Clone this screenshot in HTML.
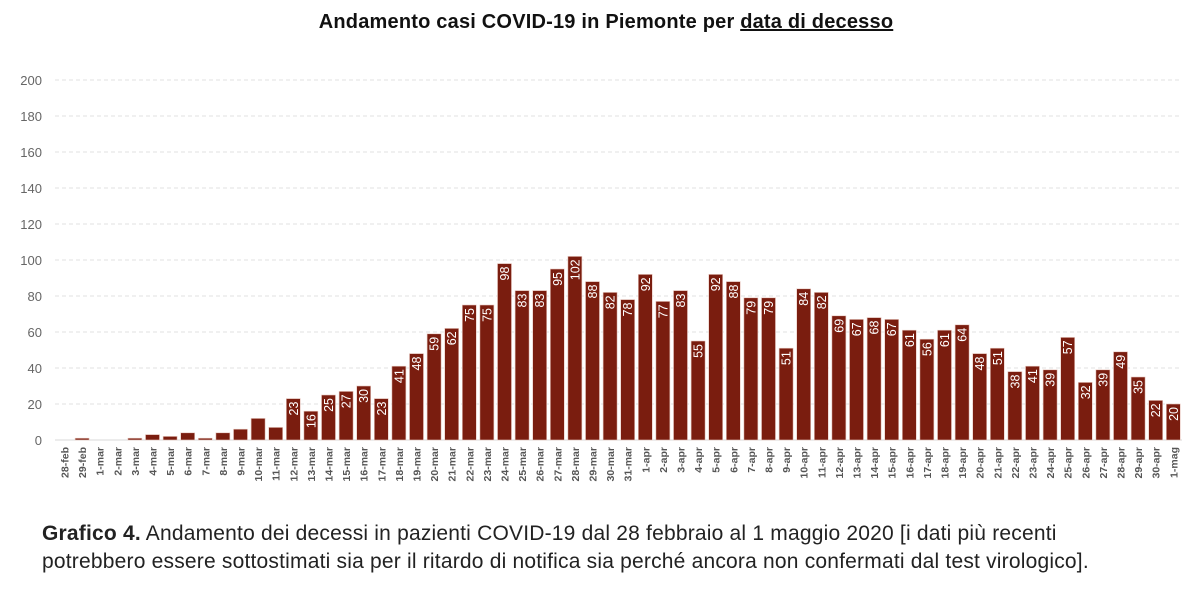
<!DOCTYPE html>
<html><head><meta charset="utf-8"><style>
body{margin:0;background:#fff;font-family:"Liberation Sans",sans-serif;}
#wrap{position:relative;width:1200px;height:591px;overflow:hidden;}
#title{position:absolute;top:11px;left:0;width:1212px;text-align:center;font-weight:bold;font-size:20px;letter-spacing:0.2px;color:#111;}
#caption{position:absolute;left:42px;top:520px;font-size:21px;letter-spacing:0.2px;line-height:28px;color:#222;white-space:nowrap;}
</style></head><body>
<div id="wrap">
<div id="title">Andamento casi COVID-19 in Piemonte per <u>data di decesso</u></div>
<svg id="chart" width="1200" height="520" style="position:absolute;left:0;top:0"></svg>
<div id="caption"><b>Grafico 4.</b> Andamento dei decessi in pazienti COVID-19 dal 28 febbraio al 1 maggio 2020 [i dati più recenti<br>potrebbero essere sottostimati sia per il ritardo di notifica sia perché ancora non confermati dal test virologico].</div>
</div>
<script>
const categories=["28-feb","29-feb"];
for(let i=1;i<=31;i++)categories.push(i+"-mar");
for(let i=1;i<=30;i++)categories.push(i+"-apr");
categories.push("1-mag");
const values=[0,1,0,0,1,3,2,4,1,4,6,12,7,23,16,25,27,30,23,41,48,59,62,75,75,98,83,83,95,102,88,82,78,92,77,83,55,92,88,79,79,51,84,82,69,67,68,67,61,56,61,64,48,51,38,41,39,57,32,39,49,35,22,20];
const yTicks=[0,20,40,60,80,100,120,140,160,180,200];
const NS="http://www.w3.org/2000/svg";
const svg=document.getElementById('chart');
const y0=440,pxPer=1.8,x0=64.5,pitch=17.6,bw=14;
const yScale=v=>y0-v*pxPer;
const xScale=i=>x0+i*pitch;
function mk(t,a){const e=document.createElementNS(NS,t);for(const k in a)e.setAttribute(k,a[k]);svg.appendChild(e);return e;}
yTicks.forEach(t=>{
  const l=mk('line',{x1:55,x2:1182,y1:yScale(t),y2:yScale(t),stroke:t===0?'#d9d9d9':'#e2e2e2','stroke-dasharray':t===0?'':'4,3'});
  
  
  const tx=mk('text',{x:42,y:yScale(t)+5,'text-anchor':'end','font-size':13,fill:'#666'});
  tx.textContent=t;
  
  
});
values.forEach((v,i)=>{
  const cx=xScale(i);
  if(v>0){
    const r=mk('rect',{x:cx-bw/2,y:yScale(v),width:bw,height:v*pxPer,fill:'#7a1d0f',stroke:'#e8c9c0','stroke-width':0.6});
    
    
  }
  if(v>=15){
    const t=mk('text',{x:0,y:0,transform:`translate(${cx+4.5},${yScale(v)+3}) rotate(-90)`,'text-anchor':'end','font-size':12.5,fill:'#fff'});
    t.textContent=v;
    
    
  }
  const lb=mk('text',{x:0,y:0,transform:`translate(${cx+4},${447}) rotate(-90)`,'text-anchor':'end','font-size':10.5,'font-weight':'bold',fill:'#555'});
  lb.textContent=categories[i];
  
  
});
</script>
</body></html>
